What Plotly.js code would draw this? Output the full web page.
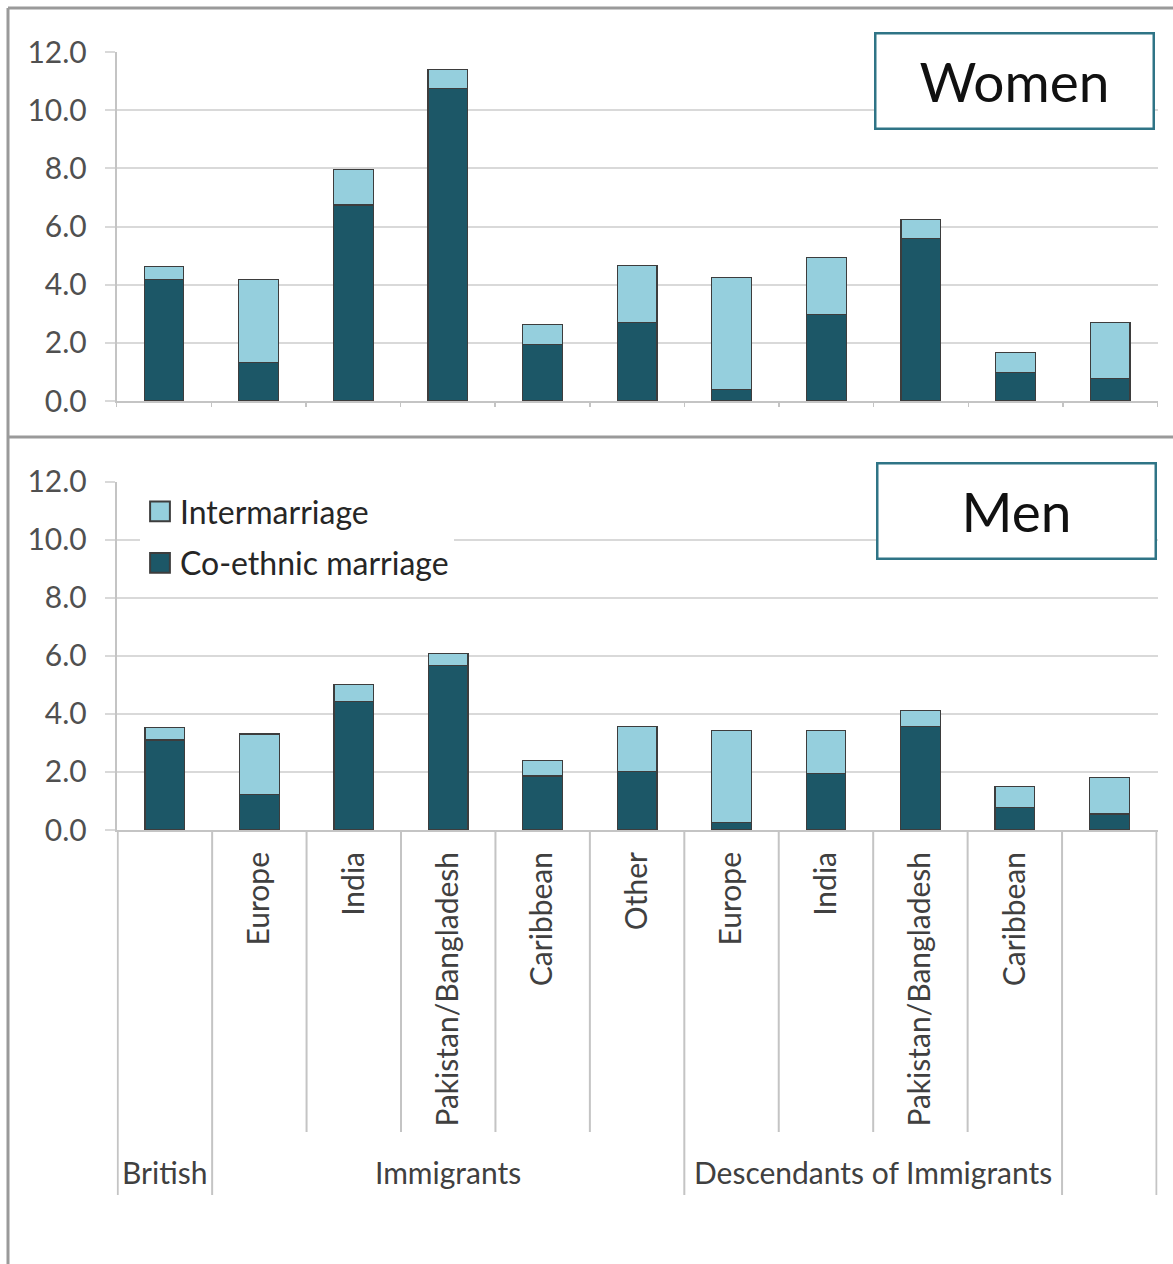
<!DOCTYPE html>
<html>
<head>
<meta charset="utf-8">
<script src="https://cdn.plot.ly/plotly-3.0.1.min.js"></script>
<style>
  html, body { margin: 0; padding: 0; background: #ffffff; }
  #chart { width: 1173px; height: 1264px; }
</style>
</head>
<body>
<div id="chart"></div>
<script>
// ---- Data ----
const groups = ["British", "Immigrants", "Immigrants", "Immigrants", "Immigrants", "Immigrants",
  "Descendants of Immigrants", "Descendants of Immigrants", "Descendants of Immigrants", "Descendants of Immigrants", ""];
const origins = ["", "Europe", "India", "Pakistan/Bangladesh", "Caribbean", "Other",
  "Europe", "India", "Pakistan/Bangladesh", "Caribbean", ""];

const womenCoethnic = [4.18, 1.32, 6.74, 10.74, 1.95, 2.71, 0.40, 2.97, 5.58, 0.97, 0.78];
const womenInter    = [0.44, 2.86, 1.22, 0.67, 0.68, 1.96, 3.85, 1.97, 0.66, 0.69, 1.91];
const menCoethnic   = [3.10, 1.23, 4.42, 5.66, 1.86, 2.01, 0.25, 1.95, 3.56, 0.77, 0.55];
const menInter      = [0.44, 2.08, 0.59, 0.43, 0.53, 1.55, 3.19, 1.49, 0.57, 0.72, 1.27];

const yTicks = [0, 2, 4, 6, 8, 10, 12];
const seriesNames = ["Co-ethnic marriage", "Intermarriage"];
const panelTitles = ["Women", "Men"];

// ---- Layout helpers ----
const W = 1173, H = 1264;
const px = v => v / W;
const py = v => 1 - v / H;

const keys = origins.map((o, i) => groups[i] + "|" + o);

const DARK = "#1c5767", LIGHT = "#95cfdd", OUTLINE = "#3d3d3d";
const FONT = "Lato, 'Open Sans', sans-serif";

function barTrace(name, y, color, xa, ya, showlegend, rank) {
  return {
    type: "bar", name: name, x: keys, y: y, xaxis: xa, yaxis: ya,
    marker: { color: color, line: { color: OUTLINE, width: 1.2 } },
    showlegend: showlegend, legendgroup: name, legendrank: rank, hoverinfo: "skip"
  };
}

const data = [
  barTrace(seriesNames[0], womenCoethnic, DARK, "x", "y", false, 2),
  barTrace(seriesNames[1], womenInter, LIGHT, "x", "y", false, 1),
  barTrace(seriesNames[0], menCoethnic, DARK, "x2", "y2", true, 2),
  barTrace(seriesNames[1], menInter, LIGHT, "x2", "y2", true, 1)
];

const xDomain = [px(116.7), px(1157.5)];
const yAxisCommon = {
  range: [0, 12], tickvals: yTicks, tickformat: ".1f",
  showgrid: true, gridcolor: "#d9d9d9", gridwidth: 2,
  ticks: "outside", ticklen: 10, tickcolor: "#d9d9d9", tickwidth: 2,
  showline: true, linecolor: "#c4c4c4", linewidth: 2,
  zeroline: false, ticklabelstandoff: 12,
  tickfont: { family: FONT, size: 30, color: "#505050" }, fixedrange: true
};

// dividers below the bottom chart
const shapes = [];
const n = keys.length;
for (let b = 0; b <= n; b++) {
  const left = b - 1, right = b;
  const groupEdge = (b === 0 || b === n || groups[left] !== groups[right]);
  shapes.push({
    type: "line", xref: "x2", yref: "paper",
    x0: b - 0.5, x1: b - 0.5, y0: py(830), y1: py(groupEdge ? 1195 : 1132),
    line: { color: "#c4c4c4", width: 2 }
  });
}
// outer frame lines
const frame = { color: "#9a9a9a", width: 3 };
shapes.push({ type: "line", xref: "paper", yref: "paper", x0: px(8), x1: 1, y0: py(8), y1: py(8), line: frame });
shapes.push({ type: "line", xref: "paper", yref: "paper", x0: px(8), x1: px(8), y0: py(8), y1: 0, line: frame });
shapes.push({ type: "line", xref: "paper", yref: "paper", x0: px(8), x1: 1, y0: py(437), y1: py(437), line: frame });

// group labels
const annotations = [];
let start = 0;
for (let i = 1; i <= n; i++) {
  if (i === n || groups[i] !== groups[start]) {
    if (groups[start] !== "") {
      annotations.push({
        xref: "x2", yref: "paper", x: (start + i - 1) / 2, y: py(1172),
        text: groups[start], showarrow: false, xanchor: "center", yanchor: "middle",
        font: { family: FONT, size: 30, color: "#404040" }
      });
    }
    start = i;
  }
}
// panel title boxes
function titleBox(text, cx, cy) {
  return {
    xref: "paper", yref: "paper", x: px(cx), y: py(cy), text: text, showarrow: false,
    xanchor: "center", yanchor: "middle", width: 276, height: 93,
    bgcolor: "#ffffff", bordercolor: "#2f7486", borderwidth: 2.5, borderpad: 0,
    font: { family: FONT, size: 55, color: "#111111" }
  };
}
annotations.push(titleBox(panelTitles[0], 1014, 81.5));
annotations.push(titleBox(panelTitles[1], 1016, 511));

const layout = {
  width: W, height: H,
  margin: { l: 0, r: 0, t: 0, b: 0 },
  paper_bgcolor: "#ffffff", plot_bgcolor: "#ffffff",
  barmode: "stack", bargap: 0.58,
  font: { family: FONT, color: "#404040" },
  xaxis: {
    domain: xDomain, anchor: "y", type: "category",
    categoryorder: "array", categoryarray: keys,
    showticklabels: false, ticks: "outside", tickson: "boundaries", ticklen: 4,
    tickcolor: "#c4c4c4", tickwidth: 1.5,
    showline: true, linecolor: "#c4c4c4", linewidth: 2, showgrid: false, fixedrange: true
  },
  yaxis: Object.assign({ domain: [py(401), py(52)], anchor: "x" }, yAxisCommon),
  xaxis2: {
    domain: xDomain, anchor: "y2", type: "category",
    categoryorder: "array", categoryarray: keys,
    tickvals: keys, ticktext: origins, tickangle: -90, ticks: "",
    ticklabelstandoff: 8,
    tickfont: { family: FONT, size: 30, color: "#404040" },
    showline: true, linecolor: "#c4c4c4", linewidth: 2, showgrid: false, fixedrange: true
  },
  yaxis2: Object.assign({ domain: [py(830), py(481.7)], anchor: "x2" }, yAxisCommon),
  legend: {
    x: px(140), y: py(484), xanchor: "left", yanchor: "top",
    bgcolor: "#ffffff", borderwidth: 0,
    traceorder: "grouped", tracegroupgap: 7,
    font: { family: FONT, size: 32, color: "#262626" }
  },
  shapes: shapes,
  annotations: annotations
};

Plotly.newPlot("chart", data, layout, { staticPlot: true, displayModeBar: false }).then(gd => {
  gd.querySelectorAll(".legend .legendpoints path").forEach(p => {
    const t = p.getAttribute("transform") || "";
    p.setAttribute("transform", t + " scale(1.65)");
  });
});
</script>
</body>
</html>
